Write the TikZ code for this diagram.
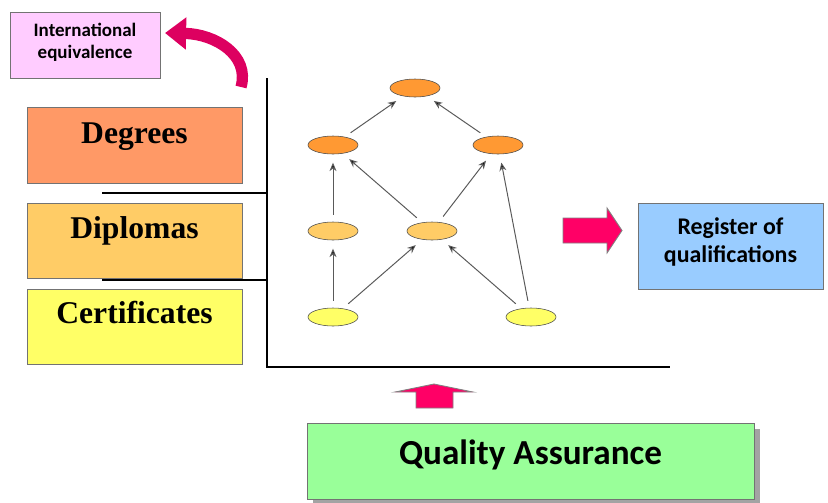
\documentclass[tikz,border=0pt]{standalone}
\usepackage{fontspec}
\setmainfont{Liberation Serif}
\newfontfamily\calibri{Carlito}
\usetikzlibrary{shapes.geometric,arrows.meta,shadows}

\definecolor{intlpink}{HTML}{FFCCFF}
\definecolor{degfill}{HTML}{FF9966}
\definecolor{dipfill}{HTML}{FFCC66}
\definecolor{certfill}{HTML}{FFFF66}
\definecolor{topfill}{HTML}{FF9933}
\definecolor{regfill}{HTML}{99CCFF}
\definecolor{qafill}{HTML}{99FF99}
\definecolor{blockpink}{HTML}{FF0066}
\definecolor{curvepink}{HTML}{DD0060}

\begin{document}
\begin{tikzpicture}[x=0.025cm, y=-0.025cm,
    box/.style={rectangle, draw=black!55, inner sep=0pt},
    tier/.style={box, minimum width=5.375cm, minimum height=1.9cm},
    tiertext/.style={anchor=base, font=\bfseries\fontsize{22.5}{26}\selectfont},
    level/.style={ellipse, draw=black!70, minimum width=1.25cm,
      minimum height=0.45cm, inner sep=0pt},
    link/.style={draw=black!65, line width=0.7pt,
      -{Stealth[length=6pt,width=5pt,fill=black]},
      shorten <=5pt, shorten >=6pt},
    axis/.style={line width=1.8pt},
    blockarrow/.style={fill=blockpink, draw=black!50, line width=0.6pt}]
  \useasboundingbox (0,0) rectangle (828,502);

  % qualification tiers on the left
  \node [tier, fill=degfill] (degrees) at (134.5,145) {};
  \node [tier, fill=dipfill, minimum height=1.875cm] (diplomas) at (134.5,240.5) {};
  \node [tier, fill=certfill, minimum height=1.875cm] (certificates) at (134.5,326.5) {};
  \node [tiertext] (degreestext) at (134.5,143) {Degrees};
  \node [tiertext] (diplomastext) at (134.5,238) {Diplomas};
  \node [tiertext] (certificatestext) at (134.5,323) {Certificates};

  % international equivalence
  \node [box, fill=intlpink, minimum width=3.75cm, minimum height=1.65cm,
    align=center, font=\calibri\bfseries\fontsize{13.5}{15.5}\selectfont,
    text depth=6pt] (intl) at (85,45) {International\\equivalence};
  \coordinate (curvestart) at (241,87);
  \coordinate (curveend) at (165,33);
  \draw [curvepink, line width=8pt,
    -{Triangle[length=15pt,width=22pt]}]
    (curvestart) .. controls (250,55) and (215,34) .. (curveend);

  % axes
  \coordinate (origin) at (267,367);
  \draw [axis] (267,78) -- (origin) -- (670,367);
  \draw [axis, line width=1.5pt] (102,193) -- (267,193);
  \draw [axis, line width=1.5pt] (102,280) -- (267,280);

  % levels
  \begin{scope}[every node/.style={level}]
    \node [fill=topfill] (top) at (415,88) {};
    \node [fill=topfill] (degL) at (333,145) {};
    \node [fill=topfill] (degR) at (498,145) {};
    \node [fill=dipfill] (dipL) at (333,231) {};
    \node [fill=dipfill] (dipM) at (432,231) {};
    \node [fill=certfill] (certL) at (333,317) {};
    \node [fill=certfill] (certR) at (531,317) {};
  \end{scope}

  \begin{scope}[every path/.style={link}]
    \draw (degL) -- (top);
    \draw (degR) -- (top);
    \draw (dipL) -- (degL);
    \draw (dipM) -- (degL);
    \draw (dipM) -- (degR);
    \draw (certL) -- (dipL);
    \draw (certL) -- (dipM);
    \draw (certR) -- (dipM);
    \draw (certR) -- (degR);
  \end{scope}

  % register of qualifications
  \node [box, fill=regfill, minimum width=4.625cm, minimum height=2.15cm,
    align=center, font=\calibri\bfseries\fontsize{17}{20}\selectfont,
    text depth=8pt] (register) at (730.5,246) {Register of\\qualifications};
  \draw [blockarrow] (563,218) -- (607,218) -- (607,208) -- (622,230.5)
    -- (607,253) -- (607,243) -- (563,243) -- cycle;

  % quality assurance
  \node [box, fill=qafill, minimum width=11.175cm, minimum height=1.9cm,
    drop shadow={shadow xshift=4pt, shadow yshift=-4pt, fill=black!45, opacity=0.8},
    font=\calibri\bfseries\fontsize{25}{29}\selectfont,
    text depth=12pt] (qa) at (530.5,461) {Quality Assurance};
  \draw [blockarrow] (416,408) -- (416,392) -- (395,392) -- (434,384)
    -- (473,392) -- (453,392) -- (453,408) -- cycle;
\end{tikzpicture}
\end{document}
